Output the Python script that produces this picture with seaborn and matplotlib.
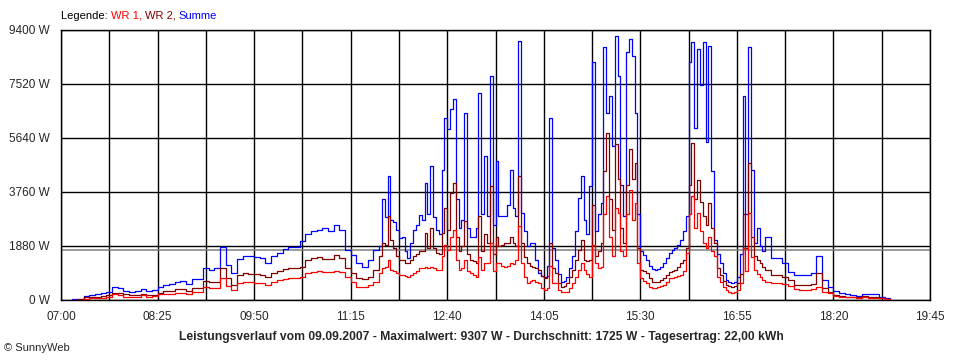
import numpy as np
import pandas as pd
import matplotlib
matplotlib.use("Agg")
import matplotlib.pyplot as plt
import seaborn as sns

# sample times (minutes after 07:00): 5 min steps, 2.5 min steps in the busy middle part
minutes = np.concatenate([np.arange(10, 280, 5), np.arange(280, 620, 2.5), np.arange(620, 735, 5)])

summe = [
    # 07:10 - 11:35 (5 min)
    20, 30, 150, 175, 210, 233, 290, 443, 408, 326, 290, 300, 373, 306, 340, 443, 536, 548, 640, 650,
    558, 720, 720, 1100, 1050, 1100, 1850, 1220, 930, 1430, 1515, 1515, 1480, 1450, 1280, 1515, 1630, 1780,
    1830, 1840, 2040, 2300, 2390, 2450, 2500, 2390, 2620, 2450, 1750, 1570, 1290, 1165, 1400, 1750,
    # 11:40 - 17:17 (2.5 min)
    1864, 3530, 2900, 4310, 2800, 2700, 2450, 2150,
    2210, 1700, 1460, 2000, 2450, 2600, 2970, 2800,
    4080, 3000, 4660, 2900, 2450, 2300, 4540, 6350,
    5940, 6640, 6990, 3500, 2500, 2800, 6520, 2500,
    2210, 2210, 2500, 7220, 3000, 5010, 2910, 7800,
    2600, 4830, 2910, 2910, 2910, 3300, 4540, 3200,
    2910, 9030, 3030, 2400, 1864, 2000, 1980, 1400,
    930, 850, 815, 1200, 6350, 1800, 1400, 900,
    640, 650, 815, 1100, 1515, 2400, 3550, 4310,
    2800, 2300, 3960, 8270, 2400, 3000, 3380, 8800,
    6520, 7100, 5360, 9200, 7800, 4000, 2910, 8620,
    9080, 8500, 6520, 3000, 1720, 1550, 1400, 1200,
    1070, 1050, 1070, 1150, 1280, 1450, 1630, 1750,
    1800, 1900, 2100, 2400, 2910, 8270, 8970, 6000,
    8740, 7500, 8970, 5500, 8850, 4500, 2100, 1600,
    1280, 950, 700, 620, 582, 620, 815, 1600,
    7100, 3000, 8800, 4540, 1980, 2500, 1864, 1700,
    # 17:20 - 19:10 (5 min)
    2210, 1460, 1460, 1280, 990, 873, 873, 873, 955, 1540, 700, 466, 315, 233, 210, 175, 140, 198, 198,
    198, 116, 58, 23,
]

wr2 = [
    10, 20, 90, 115, 115, 130, 170, 255, 240, 200, 175, 175, 200, 180, 190, 260, 300, 320, 384, 390,
    330, 430, 430, 673, 640, 640, 1106, 780, 524, 875, 930, 910, 910, 875, 815, 930, 1025, 1083,
    1106, 1106, 1165, 1400, 1455, 1480, 1440, 1440, 1570, 1455, 1106, 930, 757, 722, 815, 1050,
    1515, 1980, 1900, 2910, 2100, 1800, 1515, 1400,
    1400, 1300, 1280, 1400, 1515, 1600, 1690, 1700,
    2330, 1800, 2500, 1800, 1630, 1600, 2330, 3200,
    2450, 3730, 4080, 2200, 1700, 1864, 2740, 1600,
    1400, 1350, 1280, 2910, 1700, 2300, 1980, 3960,
    1600, 2200, 1864, 1900, 1980, 2000, 2210, 2000,
    1864, 4310, 1980, 1500, 1280, 1200, 1165, 1100,
    1050, 850, 757, 850, 1980, 1100, 930, 600,
    466, 500, 582, 800, 1050, 1400, 1750, 2100,
    1400, 1350, 1400, 3320, 1515, 1700, 1980, 4500,
    5820, 3500, 2450, 5420, 4200, 2500, 1980, 4000,
    5240, 4200, 4780, 1800, 1050, 1000, 930, 750,
    640, 630, 640, 700, 757, 870, 990, 1020,
    1050, 1150, 1280, 1400, 1800, 4000, 5475, 3500,
    4190, 3400, 2910, 2600, 3380, 2500, 1980, 1100,
    870, 650, 524, 480, 466, 500, 582, 900,
    3000, 1800, 4780, 2200, 1515, 1400, 1280, 1150,
    1050, 870, 870, 815, 700, 524, 524, 524, 560, 930, 408, 290, 175, 140, 116, 116, 93, 140, 116,
    116, 82, 35, 12,
]

wr1 = [
    5, 10, 40, 58, 58, 70, 100, 200, 180, 120, 115, 115, 160, 120, 140, 200, 210, 215, 250, 255,
    220, 280, 280, 443, 408, 420, 757, 490, 350, 582, 617, 617, 605, 582, 524, 640, 700, 733,
    757, 757, 815, 930, 970, 1013, 990, 970, 1000, 960, 815, 620, 466, 466, 524, 640,
    930, 1100, 1165, 1400, 1050, 1000, 930, 880,
    870, 830, 815, 870, 930, 1000, 1106, 1100,
    1165, 1100, 1165, 1100, 1050, 1050, 1515, 1900,
    1750, 2200, 2450, 1400, 1050, 1100, 1400, 1000,
    930, 870, 815, 1500, 1050, 1300, 1280, 2000,
    1000, 1300, 1280, 1200, 1165, 1200, 1280, 1250,
    1400, 2560, 1280, 800, 582, 650, 700, 640,
    582, 420, 350, 420, 1200, 600, 582, 350,
    290, 280, 290, 420, 582, 800, 1050, 1300,
    1050, 900, 815, 1900, 1280, 1100, 1165, 3000,
    3610, 2200, 1515, 3200, 3030, 1700, 1515, 3000,
    3840, 2800, 3380, 1300, 757, 650, 582, 470,
    408, 420, 443, 480, 524, 640, 757, 775,
    790, 830, 870, 1000, 1630, 3000, 3610, 2500,
    3030, 2400, 1980, 1800, 2210, 1700, 1515, 800,
    640, 450, 350, 280, 256, 290, 350, 600,
    1800, 1000, 3030, 1500, 1050, 900, 815, 700,
    640, 582, 582, 560, 490, 373, 350, 350, 384, 466, 290, 233, 140, 116, 93, 93, 58, 93, 82,
    82, 58, 23, 12,
]

y_ticks = [0, 1880, 3760, 5640, 7520, 9400]
x_labels = ["07:00", "08:25", "09:50", "11:15", "12:40", "14:05", "15:30", "16:55", "18:20", "19:45"]
average = 1725
title = ("Leistungsverlauf vom 09.09.2007 - Maximalwert: 9307 W - "
         "Durchschnitt: 1725 W - Tagesertrag: 22,00 kWh")

df = pd.concat([
    pd.DataFrame({"min": minutes, "W": summe, "serie": "Summe"}),
    pd.DataFrame({"min": minutes, "W": wr2, "serie": "WR 2"}),
    pd.DataFrame({"min": minutes, "W": wr1, "serie": "WR 1"}),
])
colors = {"Summe": "#0000ff", "WR 2": "#800000", "WR 1": "#ff0000"}

sns.set_style("white")
plt.rcParams["font.family"] = ["Liberation Sans", "DejaVu Sans"]

fig = plt.figure(figsize=(9.6, 3.6), dpi=100)
ax = fig.add_axes([61 / 960, 60 / 360, 869 / 960, 270 / 360])

# grid
for k in range(19):
    ax.axvline(k * 42.5, color="black", lw=1.0, zorder=1)
for v in y_ticks:
    ax.axhline(v, color="black", lw=1.0, zorder=1)
ax.axhline(average, color="#808080", lw=1.1, zorder=1)

sns.lineplot(data=df, x="min", y="W", hue="serie", palette=colors,
             hue_order=["Summe", "WR 2", "WR 1"], drawstyle="steps-post",
             lw=0.9, legend=False, ax=ax, zorder=3)

ax.set_xlim(0, 765)
ax.set_ylim(0, 9400)
ax.set_xticks([k * 42.5 for k in range(19)])
ax.set_xticklabels([x_labels[k // 2] if k % 2 == 0 else "" for k in range(19)], fontsize=8.5)
ax.set_yticks(y_ticks)
ax.set_yticklabels([f"{v} W" for v in y_ticks], fontsize=8.5)
ax.tick_params(axis="both", direction="out", length=5, width=1, color="black", pad=3)
ax.set_xlabel("")
ax.set_ylabel("")
for s in ax.spines.values():
    s.set_color("black")
    s.set_linewidth(1.0)

# legend line at top
parts = [("Legende: ", "black"), ("WR 1, ", "#ff0000"), ("WR 2, ", "#800000"), ("Summe", "#0000ff")]
x0 = 61 / 960
renderer = fig.canvas.get_renderer()
for txt, col in parts:
    t = fig.text(x0, 1 - 16 / 360, txt, color=col, fontsize=8, va="center", ha="left")
    bb = t.get_window_extent(renderer=renderer)
    x0 += bb.width / 960

fig.text(481 / 960, 1 - 337 / 360, title, fontsize=8.75, fontweight="bold", ha="center", va="center")
fig.text(4 / 960, 1 - 348 / 360, "\u00a9 SunnyWeb", fontsize=8, ha="left", va="center")

fig.savefig("out.png", dpi=100, facecolor="white")
